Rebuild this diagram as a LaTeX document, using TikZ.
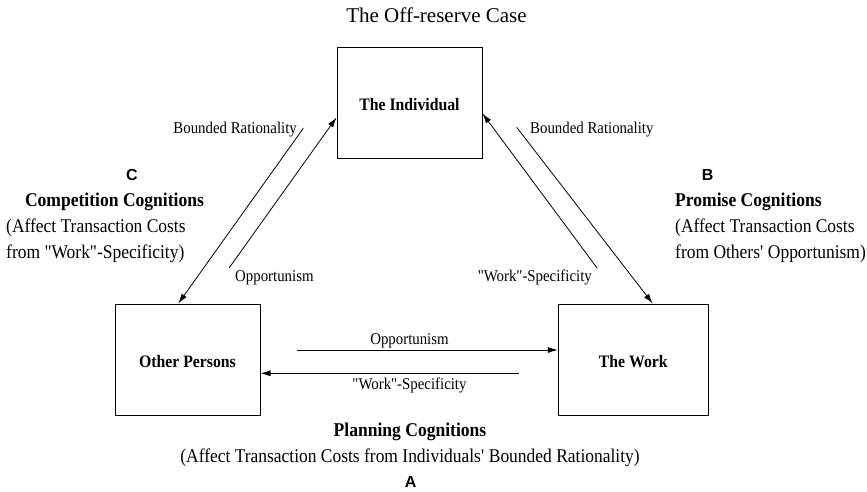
\documentclass[tikz,border=0pt]{standalone}
\usepackage{fontspec}
\setmainfont{Liberation Serif}
\newfontfamily\cond[FakeStretch=0.9]{Liberation Serif}
\newfontfamily\arialb{Liberation Sans}
\usetikzlibrary{arrows.meta}
\begin{document}
\begin{tikzpicture}[x=1pt,y=-1pt,
  box/.style={draw,line width=1pt,minimum width=145pt,minimum height=111pt,inner sep=0pt,text height=17pt,font=\cond\bfseries\fontsize{17.5}{20}\selectfont},
  arr/.style={line width=0.8pt,-{Latex[length=10pt,width=6pt]}},
  lbl/.style={inner sep=0pt,font=\cond\fontsize{16.5}{19}\selectfont},
  head/.style={inner sep=0pt,font=\cond\bfseries\fontsize{19.5}{22}\selectfont},
  sub/.style={inner sep=0pt,font=\cond\fontsize{19.4}{22}\selectfont},
  letter/.style={inner sep=0pt,font=\arialb\bfseries\fontsize{16}{18}\selectfont}]
\fill[white] (0,0) rectangle (867,491);
\useasboundingbox (0,0) rectangle (867,491);

\node[inner sep=0pt,anchor=base,font=\fontsize{21}{24}\selectfont] (title) at (436.5,22.5) {The Off-reserve Case};

\node[box] (ind) at (409.5,102.5) {The Individual};
\node[box] (oth) at (187.5,359.5) {Other Persons};
\node[box,minimum width=150pt] (wrk) at (633.3,359.5) {The Work};

\node[lbl,anchor=base east] (brl) at (297,133.3) {Bounded Rationality};
\node[lbl,anchor=base west] (brr) at (530,133.3) {Bounded Rationality};
\node[lbl,anchor=base west] (opl) at (235,281) {Opportunism};
\node[lbl,anchor=base east] (wsr) at (592,281) {"Work"-Specificity};
\node[lbl,anchor=base] (opm) at (409.5,344) {Opportunism};
\node[lbl,anchor=base] (wsm) at (409.5,389.5) {"Work"-Specificity};

\node[letter,anchor=base] (cl) at (132,180) {C};
\node[head,anchor=base] (ch) at (114.5,206.5) {Competition Cognitions};
\node[sub,anchor=base west] (cs1) at (6,232) {(Affect Transaction Costs};
\node[sub,anchor=base west] (cs2) at (6,258) {from "Work"-Specificity)};

\node[letter,anchor=base] (bl) at (707.7,180) {B};
\node[head,anchor=base west] (bh) at (675,206.5) {Promise Cognitions};
\node[sub,anchor=base west] (bs1) at (675,232) {(Affect Transaction Costs};
\node[sub,anchor=base west] (bs2) at (675,258) {from Others\textquotesingle{} Opportunism)};

\node[head,anchor=base] (ah) at (410,436.5) {Planning Cognitions};
\node[sub,anchor=base] (as) at (410,462) {(Affect Transaction Costs from Individuals\textquotesingle{} Bounded Rationality)};
\node[letter,anchor=base] (al) at (410.6,487.5) {A};

\coordinate (s1) at (303.3,128.3);
\coordinate (s2) at (229.3,267.7);
\coordinate (s3) at (597.3,268.3);
\coordinate (s4) at (516.7,127.3);
\coordinate (s5) at (297,350);
\coordinate (s6) at (519.4,373.3);

\draw[arr] (s1) -- ([xshift=-9.2pt]oth.north);
\draw[arr] (s2) -- ([yshift=-15pt]ind.west);
\draw[arr] (s3) -- ([yshift=-11pt]ind.east);
\draw[arr] (s4) -- ([xshift=19.4pt]wrk.north);
\draw[arr] (s5) -- ([yshift=9.5pt]wrk.west);
\draw[arr] (s6) -- ([yshift=-13.8pt]oth.east);
\end{tikzpicture}
\end{document}
